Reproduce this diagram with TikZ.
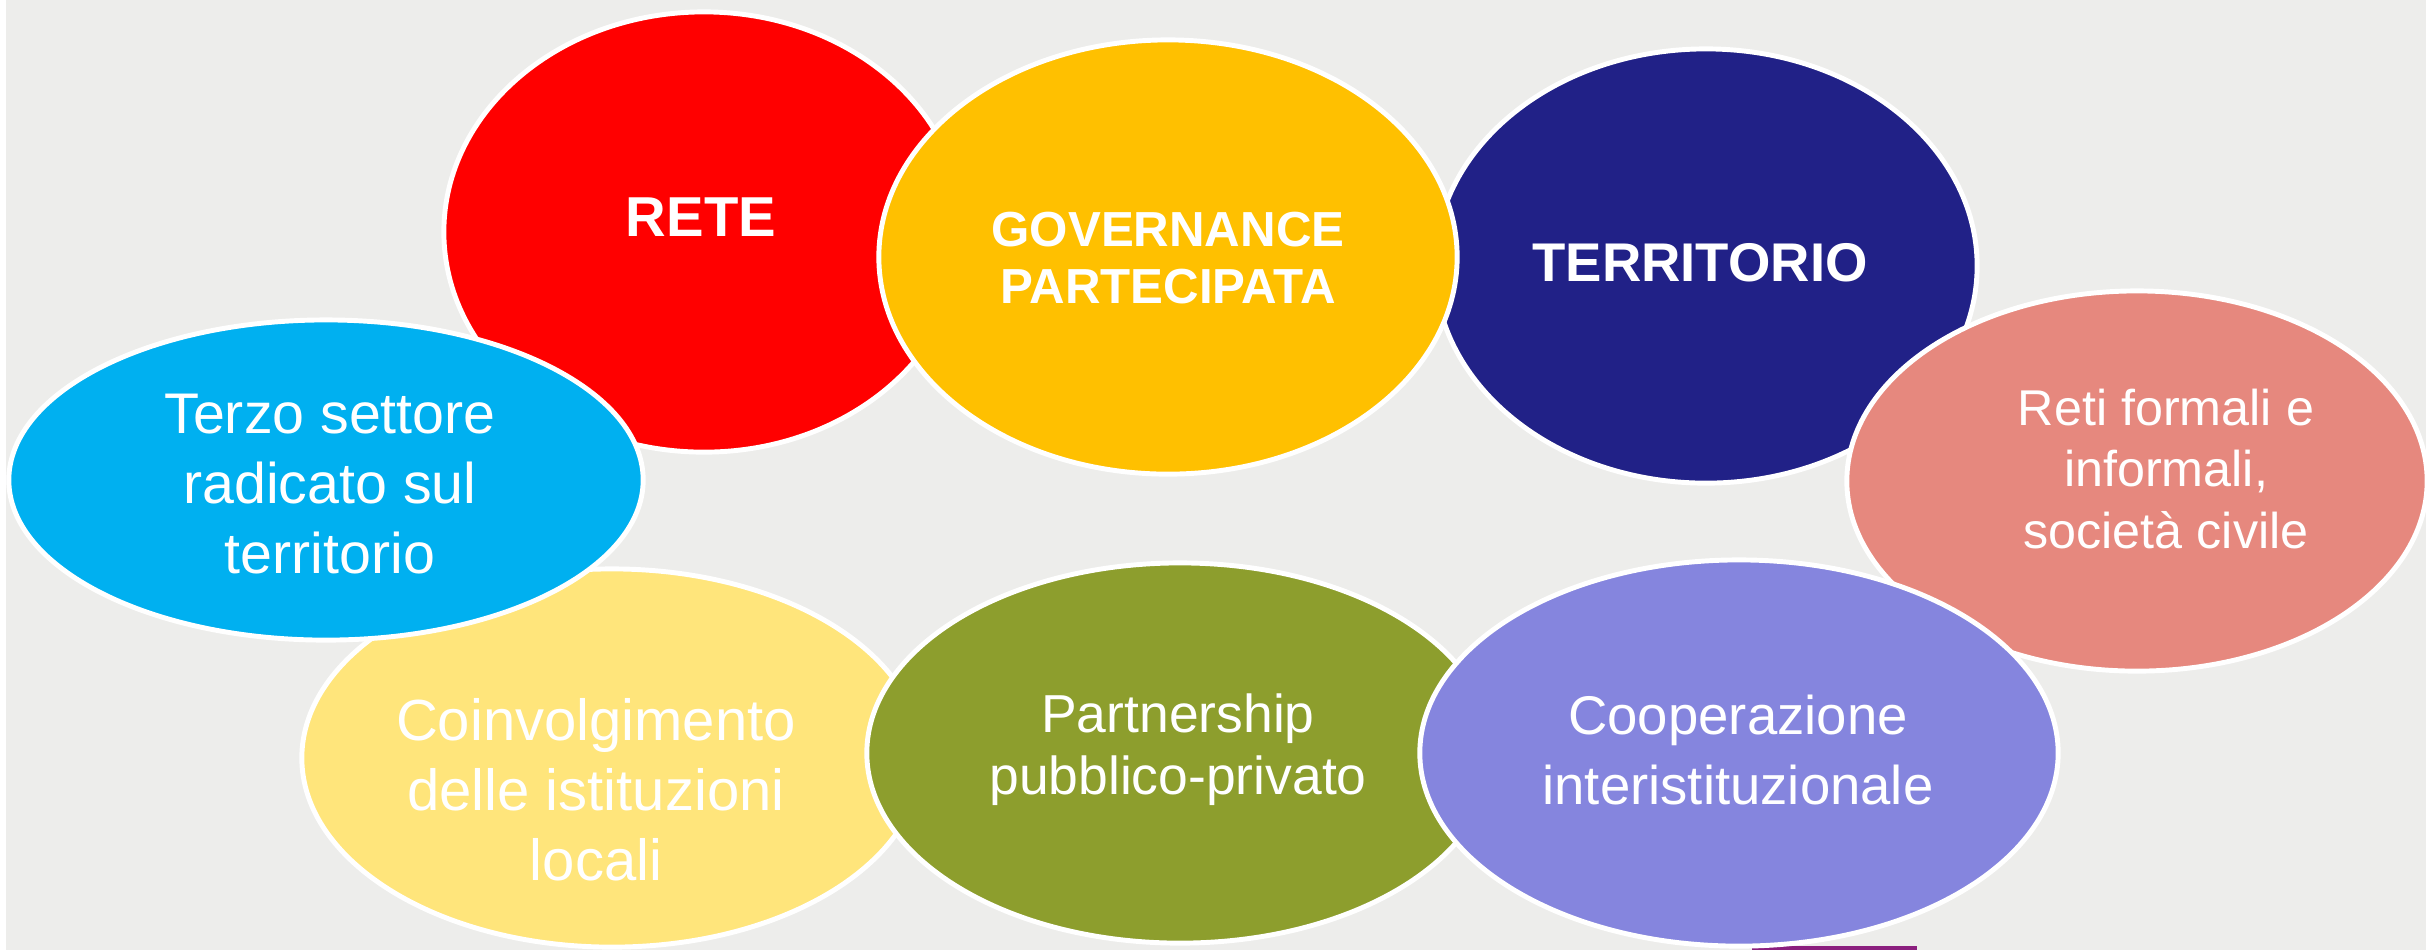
\documentclass[tikz,border=0pt]{standalone}
\usepackage{fontspec}
\setmainfont{Liberation Sans}
\usetikzlibrary{shapes.geometric}
\definecolor{sfondo}{HTML}{EDEDEB}
\definecolor{rosso}{HTML}{FF0000}
\definecolor{giallo}{HTML}{FFC000}
\definecolor{blu}{HTML}{212187}
\definecolor{salmone}{HTML}{E6887E}
\definecolor{azzurro}{HTML}{00B0F0}
\definecolor{paglia}{HTML}{FFE57B}
\definecolor{oliva}{HTML}{8D9E2D}
\definecolor{lavanda}{HTML}{8585DE}
\definecolor{viola}{HTML}{8B1F7E}
\tikzset{
	bolla/.style={ellipse, draw=white, line width=1.4pt, inner sep=0pt},
	testo/.style={text=white, align=center, inner sep=0pt}
}
\begin{document}
\begin{tikzpicture}[x=0.01cm,y=-0.01cm]
			\useasboundingbox (0,0) rectangle (2426,950);
			\fill [white] (0,0) rectangle (2426,950);
			\fill [sfondo] (6,0) rectangle (2426,950);
			\fill [viola] (1752,946) rectangle (1917,950);
			% riga in alto
			\node [bolla, fill=rosso, minimum width=5.2cm, minimum height=4.4cm] (rete) at (704,232) {};
			\node [bolla, fill=blu, minimum width=5.42cm, minimum height=4.34cm] (territorio) at (1706,266) {};
			\node [bolla, fill=giallo, minimum width=5.78cm, minimum height=4.34cm] (governance) at (1168,257) {};
			\node [bolla, fill=salmone, minimum width=5.8cm, minimum height=3.8cm] (reti) at (2137,481) {};
			% riga in basso
			\node [bolla, fill=paglia, minimum width=6.2cm, minimum height=3.78cm] (coinvolgimento) at (612,758) {};
			\node [bolla, fill=azzurro, minimum width=6.34cm, minimum height=3.2cm] (terzo) at (326,480) {};
			\node [bolla, fill=oliva, minimum width=6.26cm, minimum height=3.8cm] (partnership) at (1180,753) {};
			\node [bolla, fill=lavanda, minimum width=6.38cm, minimum height=3.86cm] (cooperazione) at (1739,753) {};
			% testi
			\node [testo, font=\bfseries\fontsize{16}{19}\selectfont] (reteT) at (701,217) {RETE};
			\node [testo, font=\bfseries\fontsize{14}{16.2}\selectfont] (governanceT) at (1168,258) {GOVERNANCE\\PARTECIPATA};
			\node [testo, font=\bfseries\fontsize{15.5}{18}\selectfont] (territorioT) at (1700,263) {TERRITORIO};
			\node [testo, font=\fontsize{14.3}{17.4}\selectfont] (retiT) at (2166,469) {Reti formali e\\informali,\\ società civile};
			\node [testo, font=\fontsize{16.3}{19.9}\selectfont] (terzoT) at (330,484) {Terzo settore\\radicato sul\\territorio};
			\node [testo, font=\fontsize{16.5}{19.9}\selectfont] (coinvolgimentoT) at (596,790) {Coinvolgimento\\delle istituzioni\\locali};
			\node [testo, font=\fontsize{15.2}{17.6}\selectfont] (partnershipT) at (1178,750) {Partnership\\pubblico-privato};
			\node [testo, font=\fontsize{15.5}{19.9}\selectfont] (cooperazioneT) at (1738,750) {Cooperazione\\interistituzionale};
		\end{tikzpicture}
\end{document}
